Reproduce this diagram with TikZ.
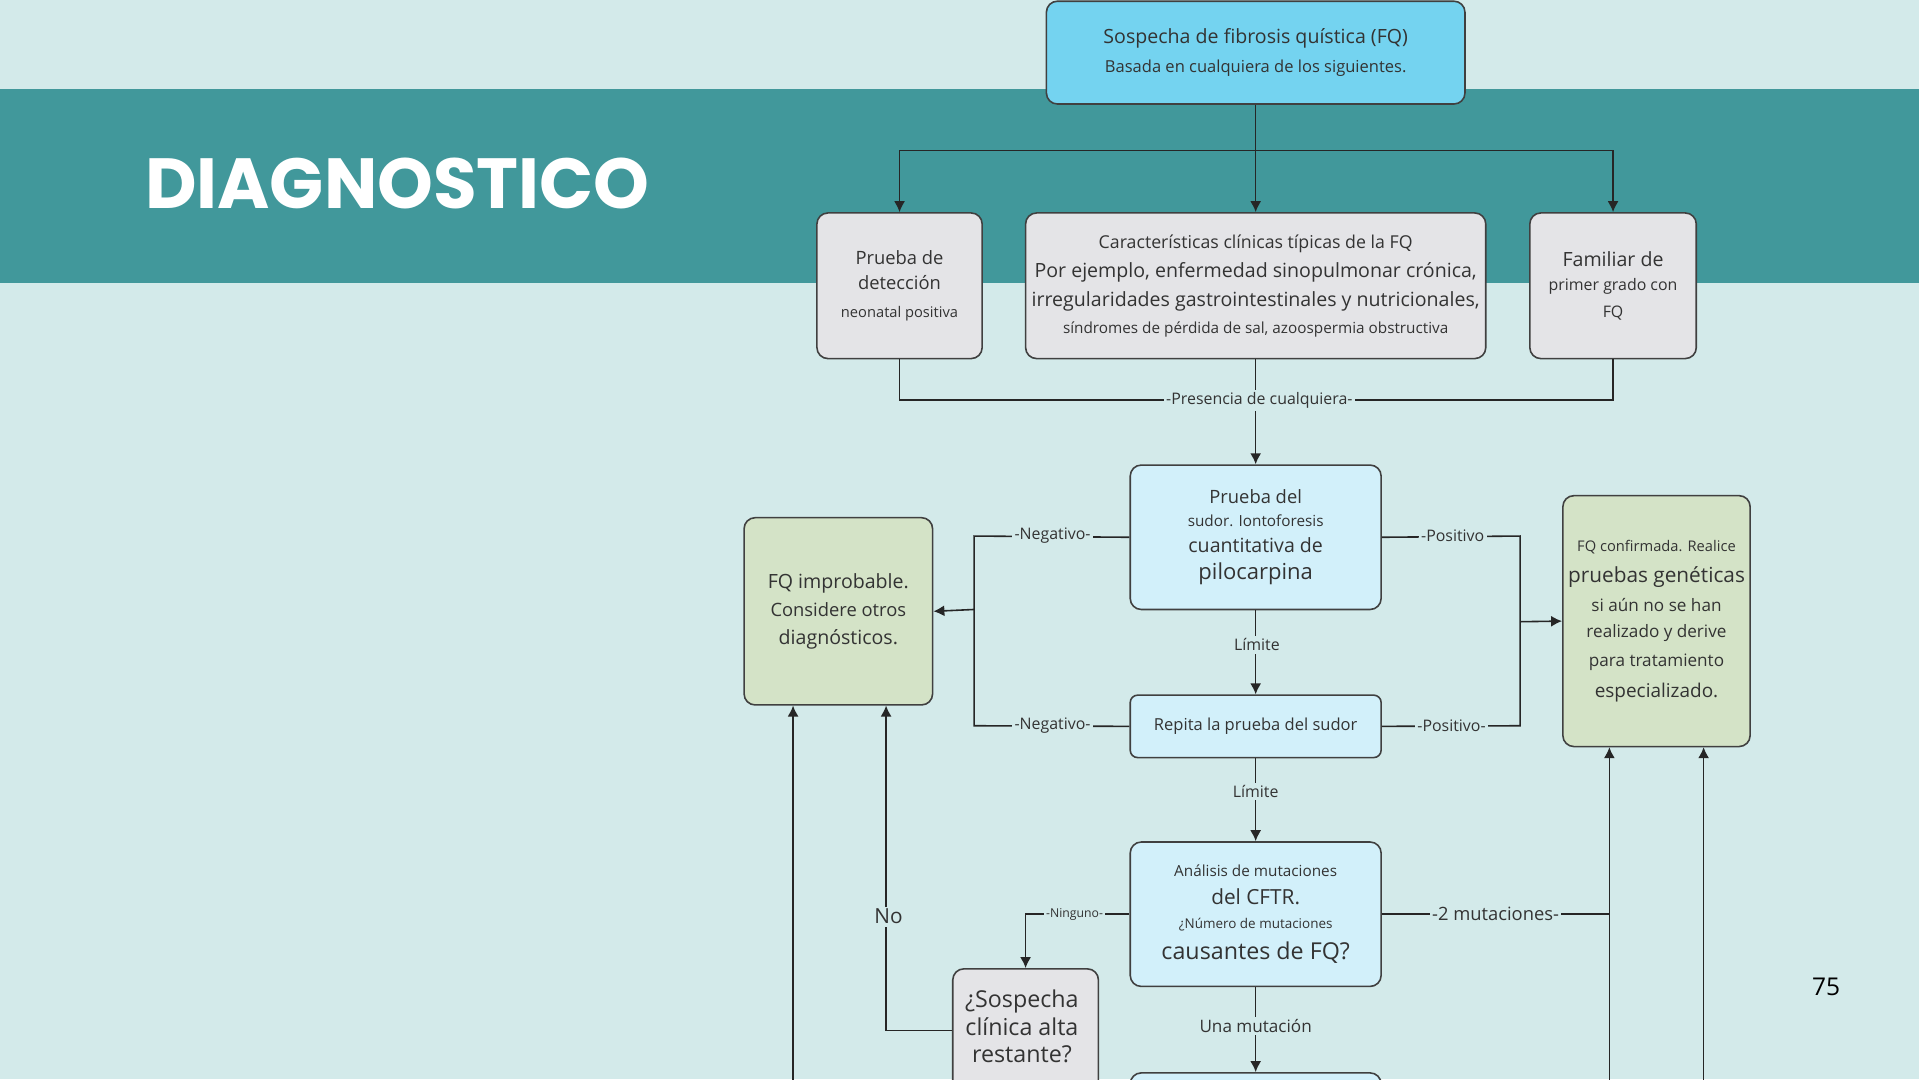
\documentclass[tikz,border=0pt]{standalone}
\usepackage{fontspec}
\setmainfont{Open Sans}
\newfontfamily\titlef{Poppins}
\usetikzlibrary{arrows.meta}
\definecolor{bg}{HTML}{D3EAEA}
\definecolor{band}{HTML}{41989B}
\definecolor{topc}{HTML}{74D3F0}
\definecolor{blu}{HTML}{D2F0FA}
\definecolor{gry}{HTML}{E4E4E7}
\definecolor{grn}{HTML}{D4E3C7}
\definecolor{txt}{HTML}{333333}
\newcommand{\fs}[1]{\fontsize{#1}{#1}\selectfont}
\begin{document}
\begin{tikzpicture}[x=1pt,y=-1pt,
 box/.style={draw=black!75,line width=1.3pt,rounded corners=9pt,align=center,text=txt,inner sep=0pt},
 ln/.style={line width=1.3pt,black!85},
 ar/.style={ln,-{Latex[length=9pt,width=9pt]}},
 lab/.style={fill=bg,inner sep=2pt,text=txt,font=\fs{13}}]
\useasboundingbox (0,0) rectangle (1568,882);
\clip (0,0) rectangle (1568,882);
\fill[bg] (0,0) rectangle (1568,882);
\fill[band] (0,73) rectangle (1568,231);
\node[anchor=west,text=white,font=\titlef\bfseries\fs{58}] (title) at (115,150) {DIAGNOSTICO};
\node[text=black,font=\fs{20}] (pg) at (1492,806) {75};
% nodes
\node[box,fill=topc,minimum width=342pt,minimum height=84pt] (top) at (1026,43) {{\fs{16}Sospecha de fibrosis quística (FQ)}\\[9pt]{\fs{13.5}Basada en cualquiera de los siguientes.}};
\node[box,fill=gry,minimum width=135pt,minimum height=119pt] (det) at (735,233.5) {{\fs{15}Prueba de}\\[9pt]{\fs{15}detección}\\[11pt]{\fs{12}neonatal positiva}};
\node[box,fill=gry,minimum width=376pt,minimum height=119pt] (car) at (1026,233.5) {{\fs{14.5}Características clínicas típicas de la FQ}\\[7pt]{\fs{16}Por ejemplo, enfermedad sinopulmonar crónica,}\\[7pt]{\fs{16}irregularidades gastrointestinales y nutricionales,}\\[7pt]{\fs{12.5}síndromes de pérdida de sal, azoospermia obstructiva}};
\node[box,fill=gry,minimum width=136pt,minimum height=119pt] (fam) at (1318,233.5) {{\fs{16}Familiar de}\\[8pt]{\fs{13}primer grado con}\\[8pt]{\fs{13}FQ}};
\node[box,fill=blu,minimum width=205pt,minimum height=118pt] (sud) at (1026,439) {{\fs{15}Prueba del}\\[7pt]{\fs{12.5}sudor. Iontoforesis}\\[8pt]{\fs{16}cuantitativa de}\\[7pt]{\fs{18}pilocarpina}};
\node[box,fill=grn,minimum width=154pt,minimum height=153pt] (imp) at (685,499.5) {{\fs{16}FQ improbable.}\\[7pt]{\fs{15}Considere otros}\\[9pt]{\fs{16}diagnósticos.}};
\node[box,fill=grn,minimum width=153pt,minimum height=205pt] (conf) at (1353.5,507.5) {{\fs{12}FQ confirmada. Realice}\\[9pt]{\fs{17}pruebas genéticas}\\[8pt]{\fs{14}si aún no se han}\\[9pt]{\fs{14}realizado y derive}\\[9pt]{\fs{14}para tratamiento}\\[9pt]{\fs{15.5}especializado.}};
\node[box,fill=blu,rounded corners=6pt,minimum width=205pt,minimum height=51pt,font=\fs{13.5}] (rep) at (1026,593.5) {Repita la prueba del sudor};
\node[box,fill=blu,minimum width=205pt,minimum height=118pt] (mut) at (1026,747) {{\fs{12.5}Análisis de mutaciones}\\[9pt]{\fs{17}del CFTR.}\\[7pt]{\fs{11}¿Número de mutaciones}\\[8pt]{\fs{19}causantes de FQ?}};
\node[box,fill=gry,minimum width=119pt,minimum height=140pt,anchor=north] (sos) at (838,791) {};
\node[align=center,text=txt,font=\fs{19},anchor=north] (sost) at (835,805) {¿Sospecha\\[3pt]clínica alta\\[3pt]restante?};
\node[box,fill=blu,minimum width=205pt,minimum height=60pt,anchor=north] (bot) at (1026,876) {};
% connectors
\draw[ln] (top.south) -- (1026,123) coordinate (j1);
\draw[ar] (j1) -| (det.north);
\draw[ar] (j1) -| (fam.north);
\draw[ar] (j1) -- (car.north);
\draw[ln] (det.south) |- (1026,327) coordinate (j2);
\draw[ln] (fam.south) |- (j2);
\draw[ln] (car.south) -- (j2);
\draw[ar] (j2) -- (sud.north);
\node[lab] (l1) at (1029,327) {-Presencia de cualquiera-};
\coordinate (jl) at (796,498);
\draw[ln] (sud.west) -- (796,438) -- (796,593) -- (rep.west);
\draw[ar] (jl) -- (imp.east);
\node[lab] (l2) at (860,438) {-Negativo-};
\node[lab] (l3) at (860,593) {-Negativo-};
\coordinate (jr) at (1242,508);
\draw[ln] (sud.east) -- (1242,438) -- (1242,593) -- (rep.east);
\draw[ar] (jr) -- (conf.west);
\node[lab] (l4) at (1187,438) {-Positivo};
\node[lab] (l5) at (1186,593) {-Positivo-};
\draw[ar] (sud.south) -- (rep.north);
\node[lab] (l6) at (1027,527) {Límite};
\draw[ar] (rep.south) -- (mut.north);
\node[lab] (l7) at (1026,647) {Límite};
\draw[ar] (mut.west) -| (sos.north);
\node[lab,font=\fs{10}] (l8) at (878,747) {-Ninguno-};
\coordinate (c2) at (1315,747);
\draw[ln] (mut.east) -- (c2);
\node[lab,font=\fs{15}] (l9) at (1222,747) {-2 mutaciones-};
\draw[ar] (1315,890) -- (1315,610.5);
\draw[ar] (1392,890) -- (1392,610.5);
\draw[ar] (648,890) -- (648,576.5);
\coordinate (s1) at (778,842);
\draw[ar] (s1) -| (724,576.5);
\node[lab,font=\fs{17}] (l10) at (726,749) {No};
\draw[ar] (mut.south) -- (bot.north);
\node[lab,font=\fs{14}] (l11) at (1026,838) {Una mutación};
\end{tikzpicture}
\end{document}
